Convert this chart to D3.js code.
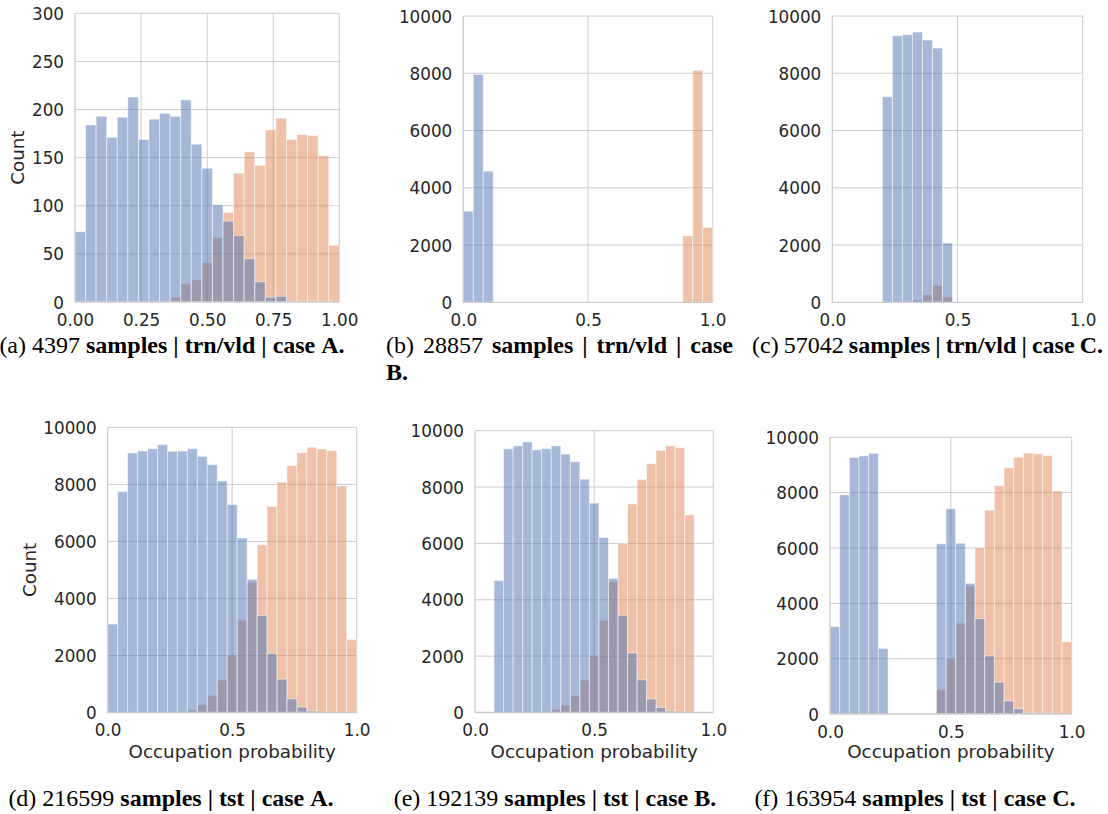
<!DOCTYPE html>
<html>
<head>
<meta charset="utf-8">
<script src="https://cdn.jsdelivr.net/npm/d3@7"></script>
<style>
  body { margin: 0; background: #ffffff; }
  svg { display: block; }
</style>
</head>
<body>
<svg id="fig" width="1108" height="814"></svg>
<script>
// Histogram counts, 25 bins of width 0.04 over [0, 1].
// "Blue" = unoccupied samples, "orange" = occupied samples.
const binStep = 0.04;

const aBlue   = [73,184,193,171,192,213,169,190,196,193,210,164,139,101,84,69,45,21,5,6,0,0,0,0,0];
const aOrange = [0,0,0,0,0,0,0,0,1,5,19,23,41,67,93,134,156,142,179,191,169,174,173,152,59];

const bBlue   = [3180,7960,4580,0,0,0,0,0,0,0,0,0,0,0,0,0,0,0,0,0,0,0,0,0,0];
const bOrange = [0,0,0,0,0,0,0,0,0,0,0,0,0,0,0,0,0,0,0,0,0,0,2320,8100,2620];

const cBlue   = [0,0,0,0,0,7180,9310,9350,9440,9160,8880,2070,0,0,0,0,0,0,0,0,0,0,0,0,0];
const cOrange = [0,0,0,0,0,0,0,0,80,260,590,190,0,0,0,0,0,0,0,0,0,0,0,0,0];

const dBlue   = [3100,7750,9100,9170,9250,9390,9160,9170,9250,8980,8690,8120,7290,6120,4670,3400,2060,1170,480,190,50,0,0,0,0];
const dOrange = [0,0,0,0,0,0,0,0,90,280,600,1140,2020,3240,4560,5880,7230,8080,8660,9110,9300,9240,9180,7940,2560];

const eBlue   = [0,0,4680,9360,9460,9600,9320,9360,9460,9170,8900,8280,7430,6210,4760,3450,2110,1160,480,180,50,0,0,0,0];
const eOrange = [0,0,0,0,0,0,0,0,110,260,600,1150,2030,3270,4650,5990,7400,8270,8830,9300,9460,9400,7010,0,0];

const fBlue   = [3160,7920,9270,9330,9420,2370,0,0,0,0,0,6150,7420,6170,4720,3450,2100,1150,470,190,50,0,0,0,0];
const fOrange = [0,0,0,0,0,0,0,0,0,0,0,890,2020,3280,4640,6010,7370,8250,8900,9280,9430,9400,9340,8060,2610];

// Tick values
const yTicksSmall = [0, 50, 100, 150, 200, 250, 300];
const yTicksLarge = [0, 2000, 4000, 6000, 8000, 10000];
const xTicksQuarter = [0, 0.25, 0.5, 0.75, 1];
const xTicksHalf = [0, 0.5, 1];

// Caption content
const panelIds = ["a", "b", "c", "d", "e", "f"];
const sampleCounts = [4397, 28857, 57042, 216599, 192139, 163954];
const splitNames = ["trn/vld", "trn/vld", "trn/vld", "tst", "tst", "tst"];
const caseNames = ["A", "B", "C", "A", "B", "C"];

const yLabelText = "Count";
const xLabelText = "Occupation probability";

// Styling
const BLUE = "#4C72B0";
const ORANGE = "#DD8452";
const GRID = "#cccccc";
const TEXT = "#262626";
const TICK_FONT = 16.8;
const LABEL_FONT = 18.3;
const CAP_FONT = 24;

const svg = d3.select("#fig");

// Plot boxes [left, right, bottom, top] for each subplot
const panels = [
  { blue: aBlue, orange: aOrange, yMax: 300,   yTicks: yTicksSmall, xTicks: xTicksQuarter, xFmt: d3.format(".2f"), box: [75, 339.3, 302, 13.3],   ylab: 24, xlab: false },
  { blue: bBlue, orange: bOrange, yMax: 10000, yTicks: yTicksLarge, xTicks: xTicksHalf,    xFmt: d3.format(".1f"), box: [463.3, 712.7, 302.3, 16], ylab: null, xlab: false },
  { blue: cBlue, orange: cOrange, yMax: 10000, yTicks: yTicksLarge, xTicks: xTicksHalf,    xFmt: d3.format(".1f"), box: [832.3, 1082.7, 302.3, 16], ylab: null, xlab: false },
  { blue: dBlue, orange: dOrange, yMax: 10000, yTicks: yTicksLarge, xTicks: xTicksHalf,    xFmt: d3.format(".1f"), box: [107.7, 356.7, 712.5, 427.3], ylab: 36, xlab: true },
  { blue: eBlue, orange: eOrange, yMax: 10000, yTicks: yTicksLarge, xTicks: xTicksHalf,    xFmt: d3.format(".1f"), box: [475, 713.3, 712.5, 430.7], ylab: null, xlab: true },
  { blue: fBlue, orange: fOrange, yMax: 10000, yTicks: yTicksLarge, xTicks: xTicksHalf,    xFmt: d3.format(".1f"), box: [830, 1071.7, 714, 437.3], ylab: null, xlab: true }
];

function drawPanel(p) {
  const [x0, x1, y0, y1] = p.box;
  const x = d3.scaleLinear().domain([0, 1]).range([x0, x1]);
  const y = d3.scaleLinear().domain([0, p.yMax]).range([y0, y1]);
  const g = svg.append("g");

  // grid (below the bars)
  const grid = g.append("g").attr("stroke", GRID).attr("stroke-width", 1);
  grid.selectAll("line.h").data(p.yTicks.filter(v => v > 0)).join("line")
    .attr("x1", x0).attr("x2", x1)
    .attr("y1", d => y(d)).attr("y2", d => y(d));
  grid.selectAll("line.v").data(p.xTicks.filter(v => v > 0)).join("line")
    .attr("y1", y0).attr("y2", y1)
    .attr("x1", d => x(d)).attr("x2", d => x(d));

  // layered histogram: occupied first, unoccupied on top
  const layers = [{ counts: p.orange, color: ORANGE }, { counts: p.blue, color: BLUE }];
  layers.forEach(layer => {
    const bins = layer.counts
      .map((c, i) => ({ c, lo: i * binStep, hi: (i + 1) * binStep }))
      .filter(b => b.c > 0);
    g.append("g").selectAll("rect").data(bins).join("rect")
      .attr("x", b => x(b.lo))
      .attr("width", b => x(b.hi) - x(b.lo))
      .attr("y", b => y(b.c))
      .attr("height", b => y(0) - y(b.c))
      .attr("fill", layer.color).attr("fill-opacity", 0.5)
      .attr("stroke", "#ffffff").attr("stroke-opacity", 0.5).attr("stroke-width", 1);
  });

  // left and bottom spines
  g.append("line").attr("x1", x0).attr("x2", x0).attr("y1", y0 + 0.6).attr("y2", y1)
    .attr("stroke", GRID).attr("stroke-width", 1.3);
  g.append("line").attr("x1", x0).attr("x2", x1).attr("y1", y0).attr("y2", y0)
    .attr("stroke", GRID).attr("stroke-width", 1.3);

  // y tick labels
  const yAxis = d3.axisLeft(y).tickValues(p.yTicks).tickSize(0).tickPadding(11).tickFormat(d3.format("d"));
  const ya = g.append("g").attr("transform", `translate(${x0},0)`).call(yAxis);
  ya.select(".domain").remove();
  ya.selectAll("text").attr("font-family", "DejaVu Sans").attr("font-size", TICK_FONT)
    .attr("fill", TEXT).attr("dy", "0.36em");

  // x tick labels
  const xAxis = d3.axisBottom(x).tickValues(p.xTicks).tickSize(0).tickPadding(11.6).tickFormat(p.xFmt);
  const xa = g.append("g").attr("transform", `translate(0,${y0})`).call(xAxis);
  xa.select(".domain").remove();
  xa.selectAll("text").attr("font-family", "DejaVu Sans").attr("font-size", TICK_FONT)
    .attr("fill", TEXT);

  if (p.ylab !== null) {
    g.append("text")
      .attr("transform", `translate(${p.ylab},${(y0 + y1) / 2}) rotate(-90)`)
      .attr("text-anchor", "middle")
      .attr("font-family", "DejaVu Sans").attr("font-size", LABEL_FONT).attr("fill", TEXT)
      .text(yLabelText);
  }
  if (p.xlab) {
    g.append("text")
      .attr("x", (x0 + x1) / 2).attr("y", 758.3)
      .attr("text-anchor", "middle")
      .attr("font-family", "DejaVu Sans").attr("font-size", LABEL_FONT).attr("fill", TEXT)
      .text(xLabelText);
  }
}

panels.forEach(drawPanel);

// ---- sub-captions (serif, label + count regular, rest bold) ----
function captionWords(i) {
  return [
    { t: `(${panelIds[i]})`, bold: false },
    { t: String(sampleCounts[i]), bold: false },
    { t: "samples", bold: true },
    { t: "|", bold: true },
    { t: splitNames[i], bold: true },
    { t: "|", bold: true },
    { t: "case", bold: true },
    { t: caseNames[i] + ".", bold: true }
  ];
}

// mode "center": natural spacing centred on cx
// mode "justify": first lineCount words spread over [left, left+width], the rest on the next line
const captionLayout = [
  { mode: "center", cx: 172, y: 353 },
  { mode: "justify", left: 386, width: 347, y: 353, lineCount: 7, nextY: 380 },
  { mode: "justify", left: 752, width: 351, y: 353, lineCount: 8, nextY: 380 },
  { mode: "center", cx: 171, y: 806 },
  { mode: "center", cx: 555, y: 806 },
  { mode: "center", cx: 915, y: 806 }
];

const capLayer = svg.append("g").attr("font-family", "Liberation Serif").attr("font-size", CAP_FONT).attr("fill", "#000");
const spaceW = 0.25 * CAP_FONT;

captionLayout.forEach((L, i) => {
  const words = captionWords(i).map(w => {
    const el = capLayer.append("text").attr("font-weight", w.bold ? "bold" : "normal").text(w.t);
    return { el, w: el.node().getComputedTextLength() };
  });
  if (L.mode === "center") {
    const total = d3.sum(words, d => d.w) + spaceW * (words.length - 1);
    let xpos = L.cx - total / 2;
    words.forEach(d => { d.el.attr("x", xpos).attr("y", L.y); xpos += d.w + spaceW; });
  } else {
    const first = words.slice(0, L.lineCount);
    const rest = words.slice(L.lineCount);
    const gap = (L.width - d3.sum(first, d => d.w)) / (first.length - 1);
    let xpos = L.left;
    first.forEach(d => { d.el.attr("x", xpos).attr("y", L.y); xpos += d.w + gap; });
    xpos = L.left;
    rest.forEach(d => { d.el.attr("x", xpos).attr("y", L.nextY); xpos += d.w + spaceW; });
  }
});
</script>
</body>
</html>
